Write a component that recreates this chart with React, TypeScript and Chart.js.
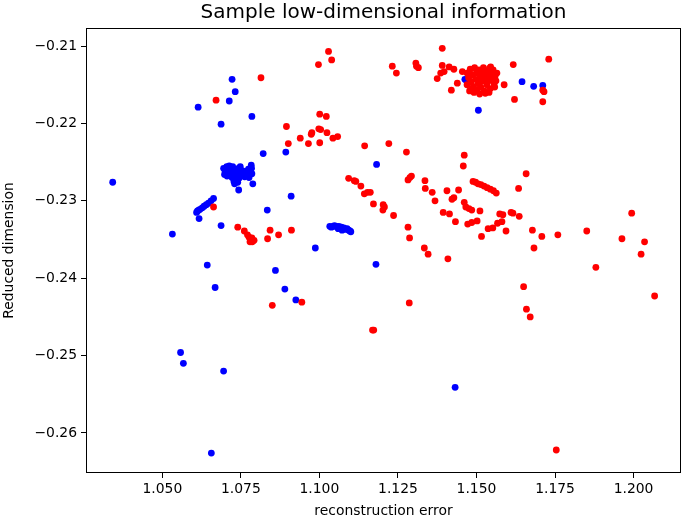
import React, { useEffect, useRef } from "react";
import { Chart, registerables } from "chart.js";

Chart.register(...registerables);

const titleText = "Sample low-dimensional information";
const xLabel = "reconstruction error";
const yLabel = "Reduced dimension";

const xTicks = [1.05, 1.075, 1.1, 1.125, 1.15, 1.175, 1.2];
const yTicks = [-0.21, -0.22, -0.23, -0.24, -0.25, -0.26];

// blue series
const blueX = [
  1.0722, 1.0732, 1.0713, 1.0614, 1.0785, 1.0687, 1.0821, 1.0342,
  1.0695, 1.0700, 1.0698, 1.0705, 1.0708, 1.0712, 1.0706, 1.0716, 1.0720, 1.0724, 1.0727, 1.0722,
  1.0731, 1.0735, 1.0739, 1.0733, 1.0742, 1.0746, 1.0750, 1.0744, 1.0754, 1.0758, 1.0762, 1.0766,
  1.0770, 1.0774, 1.0779, 1.0784, 1.0785, 1.0776, 1.0713, 1.0748, 1.0783, 1.0728, 1.0740,
  1.0730, 1.0743, 1.0788,
  1.0609, 1.0612, 1.0616, 1.0620, 1.0627, 1.0633, 1.0640, 1.0647, 1.0655, 1.0663,
  1.0617, 1.0687, 1.0532, 1.0834, 1.0643, 1.0668, 1.0860, 1.0893, 1.1182, 1.0910, 1.0987, 1.1180,
  1.0890, 1.0925,
  1.1033, 1.1038, 1.1043, 1.1048, 1.1053, 1.1057, 1.1062, 1.1066, 1.1070, 1.1074, 1.1078, 1.1083,
  1.1088, 1.1093, 1.1097, 1.1100, 1.1060, 1.1072,
  1.0558, 1.0567, 1.0695, 1.0656, 1.1432, 1.1463, 1.1467, 1.1506, 1.1645, 1.1682, 1.1711,
];
const blueY = [
  -0.2143, -0.2159, -0.2171, -0.2179, -0.2191, -0.2201, -0.2239, -0.2276,
  -0.2258, -0.2262, -0.2266, -0.2256, -0.2260, -0.2264, -0.2268, -0.2258, -0.2262, -0.2256, -0.2266, -0.2270,
  -0.2260, -0.2264, -0.2268, -0.2272, -0.2258, -0.2263, -0.2267, -0.2271, -0.2261, -0.2265, -0.2269, -0.2262,
  -0.2266, -0.2259, -0.2263, -0.2258, -0.2265, -0.2270, -0.2255, -0.2256, -0.2254, -0.2275, -0.2276,
  -0.2278, -0.2286, -0.2278,
  -0.2315, -0.2313, -0.2312, -0.2311, -0.2309, -0.2307, -0.2305, -0.2303, -0.2300, -0.2297,
  -0.2323, -0.2332, -0.2343, -0.2312, -0.2383, -0.2412, -0.2390, -0.2237, -0.2253, -0.2294, -0.2361, -0.2382,
  -0.2414, -0.2428,
  -0.2333, -0.2334, -0.2333, -0.2332, -0.2333, -0.2334, -0.2333, -0.2335, -0.2334, -0.2336, -0.2335, -0.2337,
  -0.2336, -0.2338, -0.2339, -0.2340, -0.2336, -0.2338,
  -0.2496, -0.2510, -0.2520, -0.2626, -0.2541, -0.2143, -0.2144, -0.2183, -0.2146, -0.2152, -0.2151,
];

// red series
const redX = [
  1.0814, 1.0671, 1.1391, 1.1029, 1.1039, 1.0997, 1.1232, 1.1245, 1.1307, 1.1309, 1.1315, 1.1420,
  1.1001, 1.1022, 1.0895, 1.0901, 1.0939, 1.0965, 1.0974, 1.0976, 1.0998, 1.1004, 1.1024, 1.1043,
  1.1058, 1.1001, 1.1144, 1.1221, 1.1277, 1.1461, 1.1458, 1.1617, 1.1730, 1.1588, 1.1621, 1.1711,
  1.1715, 1.1711, 1.1658, 1.0663, 1.0740, 1.0761,
  1.0771, 1.0776, 1.0781, 1.0785, 1.0788, 1.0792, 1.0779, 1.0786,
  1.0843, 1.0835, 1.0870, 1.0911,
  1.1093, 1.1111, 1.1116, 1.1132, 1.1143, 1.1153, 1.1162, 1.1172, 1.1203, 1.1207, 1.1202, 1.1236,
  1.1282, 1.1287, 1.1334, 1.1346, 1.1409, 1.1282, 1.1288, 1.1293, 1.1336, 1.1337, 1.1359, 1.1368,
  1.1406, 1.1443, 1.1422, 1.1428, 1.1394, 1.1414, 1.1433,
  1.1489, 1.1497, 1.1505, 1.1514, 1.1524, 1.1534, 1.1544, 1.1554, 1.1563,
  1.1634, 1.1461, 1.1466, 1.1476, 1.1485, 1.1511, 1.1472, 1.1485, 1.1502, 1.1574, 1.1584, 1.1610,
  1.1616, 1.1636, 1.1516, 1.1537, 1.1552, 1.1567, 1.1581, 1.1594, 1.1678, 1.1708, 1.1683, 1.1759,
  1.1851, 1.1880, 1.1650, 1.1963, 1.1994, 1.2035, 1.2024, 1.2067, 1.0850, 1.0944, 1.1169, 1.1173,
  1.1286, 1.1659, 1.1671, 1.1754,
  1.1391, 1.1413, 1.1428, 1.1375, 1.1386, 1.1397, 1.1455, 1.1439,
  1.1470, 1.1475, 1.1480, 1.1483, 1.1488, 1.1490, 1.1494, 1.1497, 1.1500, 1.1503, 1.1506, 1.1508,
  1.1511, 1.1514, 1.1517, 1.1520, 1.1522, 1.1525, 1.1527, 1.1530, 1.1533, 1.1536, 1.1539, 1.1541,
  1.1544, 1.1547, 1.1550, 1.1553, 1.1556, 1.1559, 1.1562, 1.1565, 1.1478, 1.1492, 1.1510, 1.1528,
  1.1470, 1.1485, 1.1515, 1.1540, 1.1558, 1.1545,
];
const redY = [
  -0.2141, -0.2170, -0.2103, -0.2107, -0.2118, -0.2124, -0.2126, -0.2135, -0.2122, -0.2126, -0.2128, -0.2157,
  -0.2188, -0.2191, -0.2204, -0.2226, -0.2219, -0.2226, -0.2214, -0.2212, -0.2207, -0.2208, -0.2212, -0.2219,
  -0.2217, -0.2225, -0.2229, -0.2226, -0.2237, -0.2241, -0.2255, -0.2124, -0.2117, -0.2150, -0.2169, -0.2157,
  -0.2159, -0.2172, -0.2265, -0.2308, -0.2334, -0.2339,
  -0.2344, -0.2347, -0.2350, -0.2348, -0.2352, -0.2351, -0.2353, -0.2353,
  -0.2338, -0.2349, -0.2344, -0.2338,
  -0.2271, -0.2274, -0.2275, -0.2281, -0.2291, -0.2289, -0.2289, -0.2304, -0.2305, -0.2308, -0.2312, -0.2319,
  -0.2334, -0.2348, -0.2361, -0.2369, -0.2375, -0.2273, -0.2270, -0.2268, -0.2274, -0.2284, -0.2289, -0.2300,
  -0.2287, -0.2286, -0.2298, -0.2296, -0.2315, -0.2317, -0.2327,
  -0.2275, -0.2276, -0.2278, -0.2279, -0.2281, -0.2283, -0.2285, -0.2287, -0.2290,
  -0.2284, -0.2302, -0.2308, -0.2310, -0.2312, -0.2313, -0.2330, -0.2328, -0.2326, -0.2317, -0.2318, -0.2315,
  -0.2316, -0.2320, -0.2346, -0.2336, -0.2335, -0.2329, -0.2327, -0.2339, -0.2338, -0.2346, -0.2361, -0.2344,
  -0.2339, -0.2386, -0.2411, -0.2349, -0.2316, -0.2353, -0.2369, -0.2423, -0.2435, -0.2431, -0.2467, -0.2467,
  -0.2432, -0.2440, -0.2450, -0.2622,
  -0.2125, -0.2127, -0.2130, -0.2142, -0.2135, -0.2133, -0.2133, -0.2148,
  -0.2135, -0.2141, -0.2130, -0.2146, -0.2137, -0.2152, -0.2128, -0.2143, -0.2135, -0.2156, -0.2148, -0.2131,
  -0.2140, -0.2153, -0.2136, -0.2145, -0.2128, -0.2158, -0.2141, -0.2133, -0.2150, -0.2138, -0.2145, -0.2129,
  -0.2155, -0.2136, -0.2143, -0.2131, -0.2149, -0.2139, -0.2145, -0.2135, -0.2158, -0.2160, -0.2162, -0.2161,
  -0.2150, -0.2155, -0.2132, -0.2160, -0.2153, -0.2127,
];

const xMin = 1.0257;
const xMax = 1.2151;
const yMin = -0.26517;
const yMax = -0.20767;

const FONT = "'DejaVu Sans', sans-serif";

const toPoints = (xs: number[], ys: number[]) => xs.map((x, i) => ({ x, y: ys[i] }));
const fmtNum = (v: number, d: number) => {
  const s = Math.abs(v).toFixed(d);
  return v < 0 ? "\u2212" + s : s;
};

const framePlugin = {
  id: "frame",
  afterDatasetsDraw(chart: any) {
    const { ctx, chartArea } = chart;
    ctx.save();
    ctx.strokeStyle = "#000";
    ctx.lineWidth = 1;
    ctx.strokeRect(
      Math.round(chartArea.left) + 0.5,
      Math.round(chartArea.top) + 0.5,
      Math.round(chartArea.right - chartArea.left) - 1,
      Math.round(chartArea.bottom - chartArea.top) - 1
    );
    ctx.restore();
  },
};

export default function App() {
  const ref = useRef<HTMLCanvasElement | null>(null);
  useEffect(() => {
    document.body.style.margin = "0";
    const canvas = ref.current!;
    const chart = new Chart(canvas, {
      type: "scatter",
      data: {
        datasets: [
          {
            label: "red",
            data: toPoints(redX, redY),
            backgroundColor: "#ff0000",
            borderWidth: 0,
            pointRadius: 3.4,
          },
          {
            label: "blue",
            data: toPoints(blueX, blueY),
            backgroundColor: "#0000ff",
            borderWidth: 0,
            pointRadius: 3.4,
          },
        ],
      },
      options: {
        animation: false,
        responsive: false,
        devicePixelRatio: 1,
        layout: { padding: { left: 0, right: 2, top: 0, bottom: 0 } },
        plugins: {
          legend: { display: false },
          tooltip: { enabled: false },
          title: {
            display: true,
            text: titleText,
            fullSize: false,
            color: "#000",
            font: { family: FONT, size: 20, weight: "normal", lineHeight: 1.2 },
            padding: { top: 1, bottom: 3 },
          },
        },
        scales: {
          x: {
            type: "linear",
            min: xMin,
            max: xMax,
            afterBuildTicks: (scale: any) => {
              scale.ticks = xTicks.map((v) => ({ value: v }));
            },
            afterFit: (scale: any) => {
              scale.height = 48;
            },
            ticks: {
              color: "#000",
              font: { family: FONT, size: 13.9 },
              padding: 3,
              maxRotation: 0,
              autoSkip: false,
              callback: (v: any) => fmtNum(Number(v), 3),
            },
            grid: {
              display: true,
              drawOnChartArea: false,
              drawTicks: true,
              tickLength: 5,
              tickColor: "#000",
              tickWidth: 1,
            },
            border: { display: false },
            title: {
              display: true,
              text: xLabel,
              color: "#000",
              font: { family: FONT, size: 13.9 },
              padding: { top: 0, bottom: 1 },
            },
          },
          y: {
            type: "linear",
            min: yMin,
            max: yMax,
            afterBuildTicks: (scale: any) => {
              scale.ticks = yTicks.map((v) => ({ value: v }));
            },
            afterFit: (scale: any) => {
              scale.width = 86;
            },
            ticks: {
              color: "#000",
              font: { family: FONT, size: 13.9 },
              padding: 4,
              autoSkip: false,
              callback: (v: any) => fmtNum(Number(v), 2),
            },
            grid: {
              display: true,
              drawOnChartArea: false,
              drawTicks: true,
              tickLength: 5,
              tickColor: "#000",
              tickWidth: 1,
            },
            border: { display: false },
            title: {
              display: true,
              text: yLabel,
              color: "#000",
              font: { family: FONT, size: 13.9 },
              padding: { top: 1, bottom: 0 },
            },
          },
        },
      } as any,
      plugins: [framePlugin],
    });
    return () => chart.destroy();
  }, []);
  return (
    <div style={{ position: "absolute", left: 0, top: 0, width: 685, height: 521, background: "#fff" }}>
      <canvas ref={ref} width={685} height={521} style={{ display: "block" }} />
    </div>
  );
}
